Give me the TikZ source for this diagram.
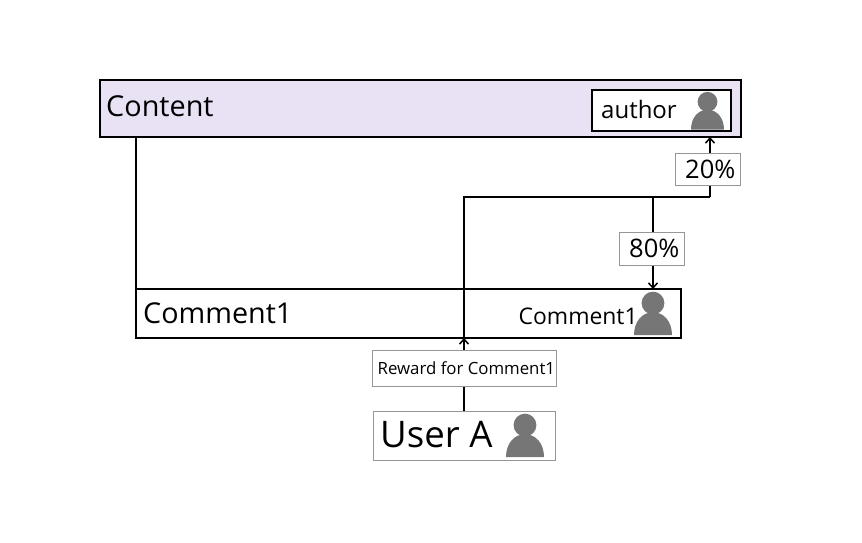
\documentclass[tikz,border=0pt]{standalone}
\usepackage{fontspec}
\setmainfont{Open Sans}
\usetikzlibrary{arrows.meta,calc}
\definecolor{lav}{RGB}{232,226,244}
\definecolor{glyph}{RGB}{118,118,118}
\definecolor{graybox}{RGB}{150,150,150}
\tikzset{
  x=1pt,y=-1pt,
  blackbox/.style={draw=black,line width=1.9pt,inner sep=0pt,outer sep=0pt,anchor=north west},
  graylabel/.style={draw=graybox,line width=1pt,fill=white,inner sep=0pt,anchor=center,text=black},
  txt/.style={inner sep=0pt,anchor=base west,text=black},
  conn/.style={draw=black,line width=1.9pt},
  tip/.style={-{Straight Barb[length=5pt,width=9pt,line width=1.5pt]}},
  pics/person/.style={code={
    \fill[glyph] (0,-#1*0.84) circle[radius=#1*0.30];
    \fill[glyph] (-#1*0.5,0) .. controls (-#1*0.5,-#1*0.36) and (-#1*0.28,-#1*0.6) .. (0,-#1*0.6)
       .. controls (#1*0.28,-#1*0.6) and (#1*0.5,-#1*0.36) .. (#1*0.5,0) -- cycle;
  }}
}
\begin{document}
\begin{tikzpicture}
\useasboundingbox (0,0) rectangle (862,543);
% containers
\node[blackbox,fill=lav,minimum width=641pt,minimum height=57pt] (content) at (100,80) {};
\node[blackbox,fill=white,minimum width=139pt,minimum height=41pt] (author) at (592,90) {};
\node[blackbox,minimum width=545pt,minimum height=49pt] (comment) at (136,289) {};
% junctions
\coordinate (ja) at (464,197);
\coordinate (jb) at (710,197);
\coordinate (jc) at (653,197);
% connectors
\draw[conn] (content.south -| comment.west) -- (comment.north west);
\draw[conn] (comment.south -| ja) -- (ja) -- (jb);
\draw[conn,tip] (jb) -- (content.south -| jb);
\draw[conn,tip] (jc) -- (comment.north -| jc);
% labels on connectors
\node[graylabel,minimum width=65pt,minimum height=32pt] (p20) at (708.3,169) {};
\node[graylabel,minimum width=65pt,minimum height=33pt] (p80) at (652.3,248.5) {};
\node[graylabel,minimum width=184pt,minimum height=36pt] (reward) at (464,368) {};
\node[graylabel,minimum width=182pt,minimum height=49pt] (usera) at (464,435.5) {};
\draw[conn] (usera.north -| ja) -- (reward.south -| ja);
\draw[conn,tip] (reward.north -| ja) -- (comment.south -| ja);
% texts
\node[txt,font=\fontsize{25.5}{28}\selectfont] (t20) at (685,178) {20\%};
\node[txt,font=\fontsize{25.5}{28}\selectfont] (t80) at (629,257) {80\%};
\node[txt,font=\fontsize{16.8}{18}\selectfont] (treward) at (377.5,374) {Reward for Comment1};
\node[txt,font=\fontsize{28.8}{30}\selectfont] (tcontent) at (106,116) {Content};
\node[txt,font=\fontsize{24}{26}\selectfont] (tauthor) at (601,118) {author};
\node[txt,font=\fontsize{28.7}{30}\selectfont] (tcomment) at (143,323) {Comment1};
\node[txt,font=\fontsize{22.9}{24}\selectfont] (tcomment2) at (518.5,324) {Comment1};
\node[txt,font=\fontsize{36.6}{38}\selectfont] (tusera) at (380,447) {User A};
% people
\pic at (707.5,129.5) {person=33};
\pic at (653,335) {person=38};
\pic at (525,457) {person=38};
\end{tikzpicture}
\end{document}
